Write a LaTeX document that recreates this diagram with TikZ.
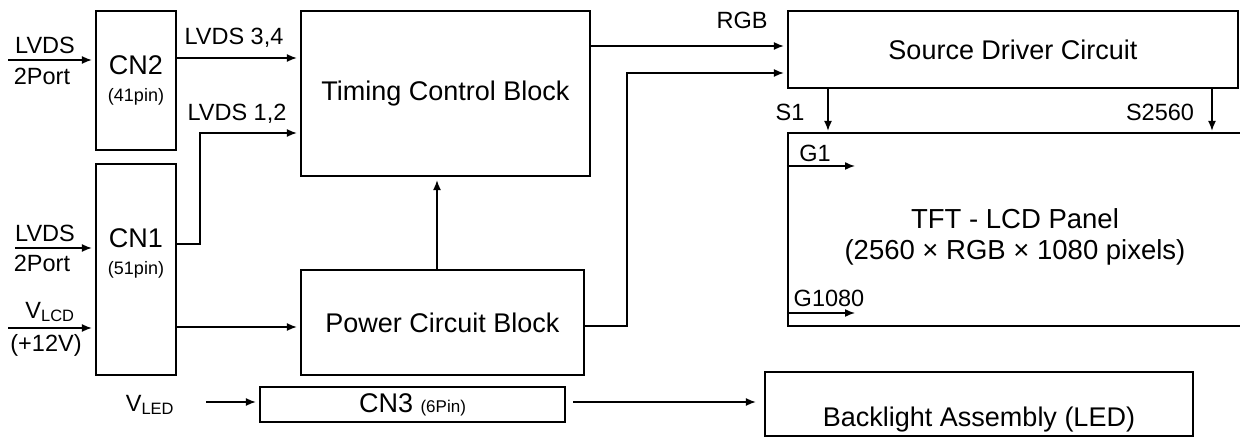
\documentclass[tikz,border=0pt]{standalone}
\usepackage{fontspec}
\setmainfont{Liberation Sans}
\usetikzlibrary{arrows.meta,positioning}

\begin{document}
\begin{tikzpicture}[x=1pt, y=-1pt,
    box/.style={draw, line width=2.2pt, inner sep=0pt, align=center,
        font=\fontsize{27}{29}\selectfont},
    lbl/.style={inner sep=0pt, align=center, font=\fontsize{23.5}{26}\selectfont},
    arr/.style={-{Latex[length=10pt,width=8pt]}, line width=1.5pt, shorten >=3pt}
]
    \useasboundingbox (0,0) rectangle (1240,438);

    \node[box, minimum width=80pt, minimum height=139pt] (cn2) at (136,80.5)
        {CN2\\[-2pt]{\fontsize{18}{20}\selectfont (41pin)}};
    \node[box, minimum width=80pt, minimum height=211pt] (cn1) at (136,269.5) {};
    \node[lbl, font=\fontsize{27}{29}\selectfont] (cn1txt) at (136,253)
        {CN1\\[-2pt]{\fontsize{18}{20}\selectfont (51pin)}};
    \node[box, minimum width=289pt, minimum height=165pt] (timing) at (445.5,93.5) {Timing Control Block};
    \node[box, minimum width=283pt, minimum height=105pt] (power) at (442.5,322.5) {Power Circuit Block};
    \node[box, minimum width=450pt, minimum height=77pt] (source) at (1013,49.5) {Source Driver Circuit};
    \node[box, minimum width=460pt, minimum height=193pt] (panel) at (1018,229.5) {};
    \node[lbl, font=\fontsize{27.5}{31}\selectfont] (paneltxt) at (1015,237)
        {TFT - LCD Panel\\(2560 × RGB × 1080 pixels)};
    \node[box, minimum width=428pt, minimum height=64pt] (backlight) at (979,404) {};
    \node[lbl, font=\fontsize{27}{29}\selectfont] (backlighttxt) at (979,420) {Backlight Assembly (LED)};
    \node[box, minimum width=305pt, minimum height=35pt] (cn3) at (412.5,404.5)
        {CN3 {\fontsize{17}{20}\selectfont (6Pin)}};

    \coordinate (in2) at (8,60);
    \coordinate (in1) at (15,248);
    \coordinate (vlcd) at (8,328);
    \coordinate (vled) at (206,402);

    \node[lbl] (in2a) at (45,45) {LVDS};
    \node[lbl] (in2b) at (42,76) {2Port};
    \node[lbl] (in1a) at (45,233) {LVDS};
    \node[lbl] (in1b) at (42,263) {2Port};
    \node[lbl] (vlcda) at (50,312) {V\textsubscript{LCD}};
    \node[lbl] (vlcdb) at (46,345) {(+12V)};
    \node[lbl] (vleda) at (150,405) {V\textsubscript{LED}};

    \draw[arr] (in2) -- (in2 -| cn2.west);
    \draw[arr] (in1) -- (in1 -| cn1.west);
    \draw[arr] (vlcd) -- (vlcd -| cn1.west);
    \draw[arr] (vled) -- (vled -| cn3.west);

    \draw[arr] (cn2.east |- 0,58) -- (timing.west |- 0,58);
    \node[lbl] (lvds34) at (234,38) {LVDS 3,4};
    \draw[arr] (cn1.east |- 0,244) -- (200,244) -- (200,133) -- (timing.west |- 0,133);
    \node[lbl] (lvds12) at (237,114) {LVDS 1,2};
    \draw[arr] (cn1.east |- 0,327) -- (power.west |- 0,327);
    \draw[arr] (power.north -| 437,0) -- (timing.south -| 437,0);

    \draw[arr] (timing.east |- 0,46) -- (source.west |- 0,46);
    \node[lbl] (rgb) at (742,20) {RGB};
    \draw[arr] (power.east |- 0,326) -- (627,326) -- (627,73) -- (source.west |- 0,73);

    \draw[arr, shorten >=1pt] (source.south -| 828,0) -- (panel.north -| 828,0);
    \node[lbl] (s1) at (790,112) {S1};
    \draw[arr, shorten >=1pt] (source.south -| 1212,0) -- (panel.north -| 1212,0);
    \node[lbl] (s2560) at (1160,112) {S2560};

    \draw[arr, shorten >=0pt] (panel.west |- 0,166) -- (855,166);
    \node[lbl] (g1) at (815,153) {G1};
    \draw[arr, shorten >=0pt] (panel.west |- 0,313) -- (855,313);
    \node[lbl] (g1080) at (829,298) {G1080};

    \draw[arr, shorten <=7pt, shorten >=8pt] (cn3.east |- 0,402) -- (backlight.west |- 0,402);
\end{tikzpicture}
\end{document}
